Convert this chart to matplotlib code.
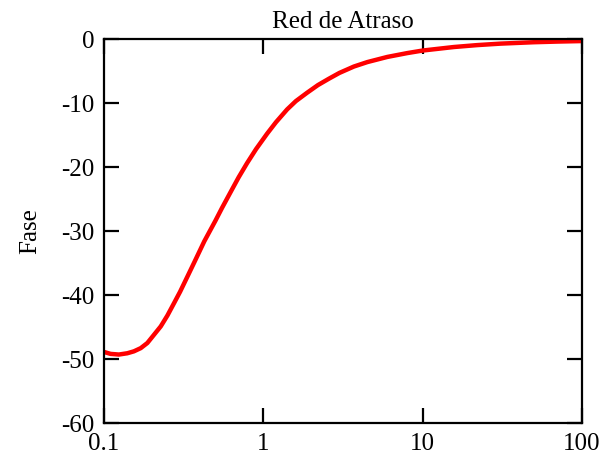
import matplotlib
matplotlib.use('Agg')
import matplotlib.pyplot as plt
from matplotlib.ticker import FixedLocator, FuncFormatter

plt.rcParams['font.family'] = ['Liberation Serif', 'DejaVu Serif']
plt.rcParams['axes.unicode_minus'] = False

# frecuencia y fase de la red de atraso
frecuencia = [0.1, 0.11, 0.124, 0.14, 0.154, 0.17, 0.187, 0.2, 0.227, 0.25,
              0.276, 0.3, 0.334, 0.37, 0.426, 0.5, 0.55, 0.636, 0.7, 0.79,
              0.9, 1.055, 1.2, 1.41, 1.6, 1.88, 2.2, 2.58, 3.0, 3.7,
              4.5, 6.0, 8.0, 10, 15.7, 22, 30.8, 50, 70, 100]
fase = [-48.9, -49.2, -49.3, -49.1, -48.8, -48.3, -47.5, -46.6, -44.9, -43.2,
        -41.2, -39.5, -37.1, -34.8, -31.6, -28.4, -26.4, -23.5, -21.6, -19.4,
        -17.2, -14.8, -13.0, -11.0, -9.7, -8.4, -7.2, -6.2, -5.3, -4.3,
        -3.6, -2.8, -2.2, -1.8, -1.25, -0.95, -0.72, -0.5, -0.4, -0.32]

xticks = [0.1, 1, 10, 100]
xlabels = ['0.1', '1', '10', '100']
yticks = [0, -10, -20, -30, -40, -50, -60]

fig = plt.figure(figsize=(6.02, 4.59), dpi=100)
ax = fig.add_axes([0.1728, 0.0784, 0.794, 0.8366])

ax.plot(frecuencia, fase, color='red', linewidth=3.2,
        solid_joinstyle='round', solid_capstyle='butt')

ax.set_xscale('log')
ax.set_xlim(0.1, 100)
ax.set_ylim(-60, 0)
ax.xaxis.set_major_locator(FixedLocator(xticks))
ax.xaxis.set_minor_locator(FixedLocator([]))
ax.xaxis.set_major_formatter(FuncFormatter(lambda v, p: xlabels[xticks.index(v)] if v in xticks else ''))
ax.set_yticks(yticks)

for s in ax.spines.values():
    s.set_linewidth(1.6)
ax.tick_params(direction='in', length=11, width=1.6, top=True, right=True,
               labelsize=18, pad=7)

ax.set_title('Red de Atraso', fontsize=18, pad=8)
ax.set_ylabel('Fase', fontsize=18, labelpad=14)

fig.savefig('out.png', dpi=100)
